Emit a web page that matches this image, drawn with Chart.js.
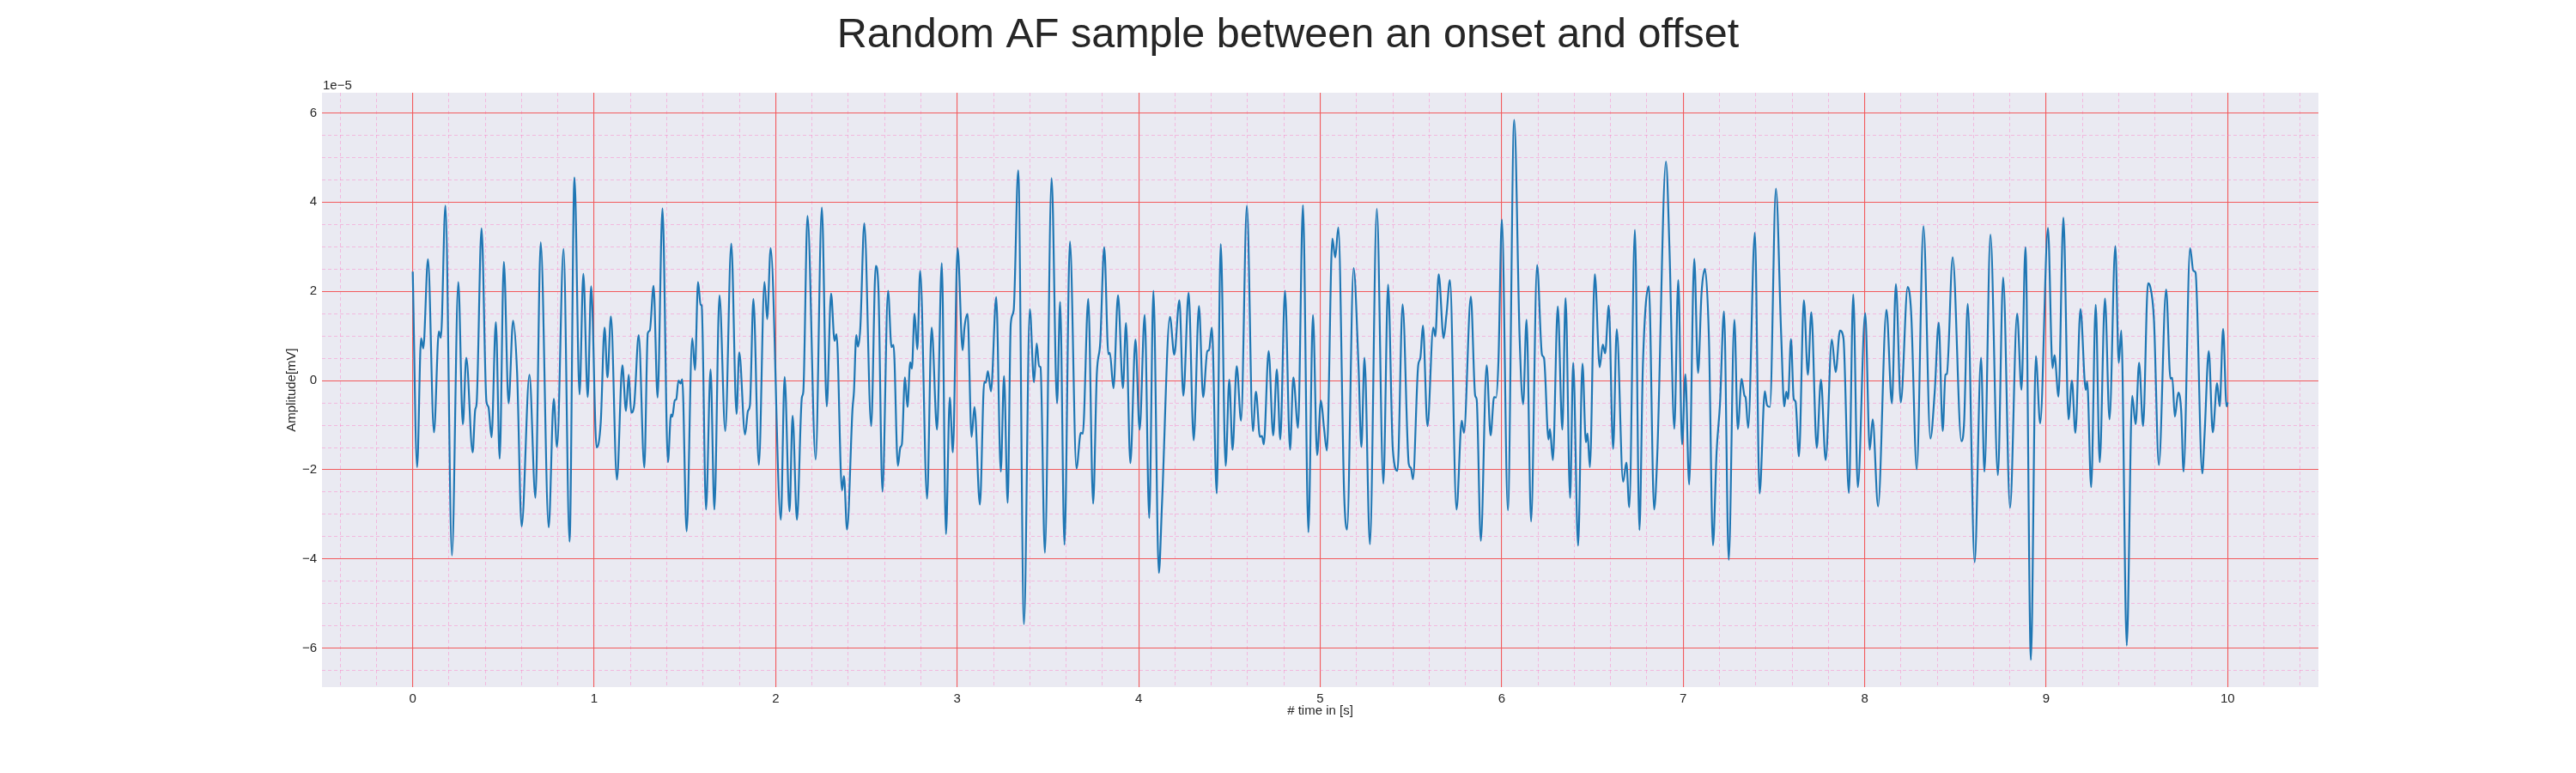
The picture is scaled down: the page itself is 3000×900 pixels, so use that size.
<!DOCTYPE html>
<html>
<head>
<meta charset="utf-8">
<title>Random AF sample between an onset and offset</title>
<script src="https://cdn.jsdelivr.net/npm/chart.js@4.4.1/dist/chart.umd.min.js"></script>
<style>
  html, body { margin: 0; padding: 0; background: #ffffff; }
  #wrap { width: 3000px; height: 900px; position: relative; }
</style>
</head>
<body>
<div id="wrap"><canvas id="chart"></canvas></div>
<script>
// ---------------- data ----------------
const TITLE = 'Random AF sample between an onset and offset';
const X_LABEL = '# time in [s]';
const Y_LABEL = 'Amplitude[mV]';
const Y_OFFSET_TEXT = '1e\u22125';           // amplitudes below are in units of 1e-5

const TIME_S = [
  0.000,0.024,0.046,0.058,0.084,0.117,0.144,0.155,0.180,0.216,0.251,0.276,0.295,0.330,0.344,0.352,0.379,0.406,0.417,0.434,
  0.458,0.479,0.502,0.528,0.553,0.575,0.600,0.643,0.676,0.705,0.749,0.777,0.795,0.831,0.864,0.891,0.919,0.940,0.964,0.983,
  1.013,1.036,1.057,1.073,1.092,1.125,1.155,1.175,1.190,1.204,1.220,1.245,1.276,1.295,1.306,1.327,1.349,1.376,1.406,1.423,
  1.430,1.444,1.452,1.464,1.476,1.485,1.509,1.540,1.555,1.572,1.586,1.592,1.616,1.641,1.662,1.690,1.722,1.755,1.784,1.799,
  1.831,1.847,1.858,1.877,1.907,1.938,1.953,1.972,
  2.028,2.049,2.076,2.093,2.117,2.144,2.152,2.175,2.220,2.254,2.281,2.305,2.324,2.335,2.365,2.376,2.393,2.423,2.431,2.444,
  2.453,2.466,2.488,2.526,2.551,2.566,2.588,2.619,2.638,2.649,2.673,2.687,2.695,2.712,2.726,2.741,2.750,2.765,2.780,2.796,
  2.834,2.859,2.889,2.915,2.938,2.959,2.976,3.002,
  3.030,3.040,3.057,3.079,3.095,3.125,3.149,3.157,3.169,3.186,3.215,3.240,3.258,3.278,3.295,3.311,3.336,3.368,3.400,3.423,
  3.438,3.451,3.459,3.483,3.520,3.550,3.567,3.591,3.621,3.657,3.681,3.692,3.722,3.749,3.769,3.788,3.810,3.833,3.841,3.861,
  3.886,3.913,3.930,3.954,3.982,
  4.005,4.033,4.058,4.081,4.111,4.128,4.172,4.196,4.224,4.246,4.275,4.303,4.332,4.355,4.378,4.387,4.403,4.430,4.452,4.479,
  4.499,4.517,4.540,4.564,4.596,4.629,4.646,4.668,4.679,4.689,4.716,4.741,4.761,4.780,4.806,4.834,4.852,4.878,4.905,4.935,
  4.960,4.983,
  5.004,5.021,5.037,5.067,5.083,5.100,5.132,5.148,5.184,5.211,5.227,5.244,5.274,5.312,5.348,5.374,5.400,5.426,5.454,5.488,
  5.500,5.511,5.540,5.552,5.566,5.591,5.623,5.634,5.653,5.680,5.696,5.715,5.751,5.780,5.792,5.830,5.854,5.862,5.885,5.917,
  5.939,5.958,5.969,5.982,6.001,
  6.034,6.069,6.099,6.118,6.137,6.162,6.195,6.222,6.233,6.258,6.266,6.282,6.309,6.334,6.352,6.377,6.394,6.421,6.445,6.464,
  6.473,6.486,6.513,6.540,6.557,6.570,6.590,6.614,6.634,6.669,6.687,6.703,6.734,6.759,6.778,6.811,6.840,6.857,6.905,6.925,
  6.951,6.973,6.994,
  7.012,7.033,7.061,7.082,7.101,7.120,7.142,7.164,7.184,7.203,7.225,7.251,7.282,7.301,7.322,7.338,7.344,7.358,7.395,7.421,
  7.450,7.462,7.478,7.511,7.540,7.557,7.568,7.578,7.594,7.609,7.619,7.638,7.665,7.687,7.706,7.736,7.759,7.785,7.819,7.840,
  7.864,7.883,7.913,7.937,7.962,8.003,
  8.028,8.044,8.074,8.120,8.150,8.172,8.199,8.237,8.256,8.287,8.324,8.362,8.386,8.408,8.430,8.445,8.453,8.485,8.533,8.548,
  8.568,8.606,8.641,8.660,8.693,8.734,8.763,8.801,8.840,8.864,8.886,8.916,8.943,8.967,9.010,
  9.035,9.046,9.068,9.095,9.123,9.142,9.161,9.189,9.218,9.226,9.248,9.273,9.295,9.324,9.349,9.381,9.400,9.414,9.444,9.474,
  9.493,9.512,9.534,9.561,9.573,9.594,9.621,9.661,9.685,9.695,9.709,9.728,9.744,9.757,9.793,9.811,9.823,9.860,9.873,9.896,
  9.918,9.942,9.956,9.975,9.994,10.000
];

const AMPLITUDE_E5 = [
  2.44,-1.94,0.95,0.72,2.72,-1.16,1.10,0.96,3.92,-3.92,2.21,-0.98,0.51,-1.61,-0.66,-0.51,3.41,-0.47,-0.59,-1.27,
  1.31,-1.75,2.66,-0.51,1.34,0.17,-3.27,0.13,-2.63,3.10,-3.29,-0.41,-1.49,2.95,-3.61,4.55,-0.31,2.39,-0.37,2.11,
  -1.50,-0.93,1.19,0.07,1.44,-2.22,0.34,-0.68,0.13,-0.72,-0.55,1.02,-1.95,1.06,1.12,2.12,-0.38,3.86,-1.83,-0.76,
  -0.81,-0.44,-0.42,0.00,-0.07,0.03,-3.38,0.95,0.24,2.21,1.70,1.68,-2.89,0.25,-2.89,1.91,-1.13,3.07,-0.75,0.63,
  -1.21,-0.68,-0.55,1.83,-1.89,2.21,1.38,2.97,
  -3.12,0.08,-2.93,-0.79,-3.12,-0.38,-0.25,3.69,-1.77,3.88,-0.58,1.95,0.89,1.04,-2.46,-2.14,-3.34,-0.64,-0.25,1.02,
  0.76,1.17,3.52,-1.02,2.57,2.04,-2.49,2.01,0.75,0.80,-1.91,-1.49,-1.43,0.07,-0.59,0.41,0.27,1.50,0.70,2.46,
  -2.65,1.19,-1.10,2.63,-3.44,-0.38,-1.61,2.97,
  0.68,1.19,1.49,-1.26,-0.59,-2.78,-0.03,-0.05,0.21,-0.24,1.87,-2.04,0.10,-2.74,1.27,1.57,4.71,-5.46,1.60,-0.04,
  0.83,0.32,0.30,-3.86,4.54,-0.51,1.76,-3.68,3.12,-1.97,-1.17,-1.19,1.83,-2.76,0.13,0.85,2.99,0.59,0.62,-0.17,
  1.91,-0.17,1.29,-1.85,0.92,
  -1.10,1.47,-3.08,2.01,-4.31,-2.80,1.43,0.58,1.80,-0.34,1.97,-1.34,1.67,-0.37,0.66,0.68,1.19,-2.53,3.06,-1.91,
  0.02,-1.55,0.32,-0.90,3.92,-1.13,-0.25,-1.26,-1.24,-1.43,0.66,-1.23,0.25,-1.32,2.01,-1.55,0.07,-1.06,3.93,-3.40,
  1.47,-1.67,
  -0.45,-1.06,-1.57,3.18,2.76,3.43,-2.55,-3.34,2.52,0.34,-1.49,0.51,-3.67,3.85,-2.31,2.15,-1.53,-2.02,1.71,-1.87,
  -1.96,-2.21,0.34,0.51,1.23,-1.02,1.19,0.99,2.38,0.95,1.49,2.25,-2.89,-0.90,-1.17,1.88,-0.34,-0.42,-3.59,0.34,
  -1.23,-0.37,-0.38,0.42,3.61,
  -2.91,5.84,0.93,-0.53,1.36,-3.16,2.59,0.58,0.51,-1.32,-1.09,-1.78,1.66,-1.10,1.85,-2.63,0.40,-3.70,0.38,-1.38,
  -1.19,-1.94,2.38,0.30,0.81,0.61,1.68,-1.53,1.15,-2.27,-1.84,-2.84,3.38,-3.35,0.34,2.11,-2.89,-1.70,4.91,2.89,
  -1.08,2.25,-1.43,
  0.14,-2.33,2.73,0.17,1.95,2.50,0.93,-3.69,-1.61,-0.51,1.55,-4.02,1.36,-1.09,0.04,-0.34,-0.38,-1.06,3.31,-2.53,
  -0.24,-0.55,-0.59,4.30,1.02,-0.58,-0.25,-0.41,0.93,-0.41,-0.47,-1.70,1.80,0.13,1.53,-1.51,0.02,-1.78,0.92,0.19,
  1.12,0.95,-2.52,1.93,-2.39,1.51,
  -1.55,-0.87,-2.82,1.59,-0.51,2.16,-0.49,2.10,1.53,-1.99,3.46,-1.30,-0.25,1.30,-1.13,0.13,0.15,2.76,-1.36,-0.93,
  1.72,-4.07,0.51,-2.04,3.27,-2.12,2.31,-2.85,1.50,-0.21,2.99,-6.26,0.55,-0.96,3.42,
  0.28,0.57,-0.36,3.65,-0.87,0.00,-1.17,1.60,-0.21,-0.02,-2.39,1.70,-1.83,1.84,-0.87,3.01,0.40,1.12,-5.94,-0.34,
  -0.98,0.40,-1.02,2.18,2.11,1.36,-1.89,2.04,0.04,0.06,-0.81,-0.27,-0.68,-2.04,2.97,2.46,2.42,-2.08,-1.19,0.66,
  -1.16,-0.06,-0.58,1.16,-0.58,-0.49
];

// axis settings (limits and grid steps as shown)
const X_MIN = -0.5, X_MAX = 10.5, X_MINOR_STEP = 0.2, X_MAJOR_STEP = 1;
const Y_MIN = -6.87, Y_MAX = 6.45, Y_MINOR_STEP = 0.5, Y_MAJOR_STEP = 2;

// ---------------- styles ----------------
const FONT = "'Liberation Sans', Arial, Helvetica, sans-serif";
const TEXT_COLOR = '#262626';
const PLOT_BG = '#EAEAF2';
const MAJOR_GRID = '#F25A5C';
const MINOR_GRID = 'rgba(255,105,190,0.38)';
const LINE_COLOR = '#1f77b4';

Chart.defaults.font.family = FONT;
Chart.defaults.color = TEXT_COLOR;

const points = TIME_S.map((t, i) => ({ x: t, y: AMPLITUDE_E5[i] }));

const onStep = (v, step) => Math.abs(v / step - Math.round(v / step)) < 1e-6;
const isXMajor = v => onStep(v, X_MAJOR_STEP);
const isYMajor = v => onStep(v, Y_MAJOR_STEP);

// grid ticks at every minor step inside the axis range
function stepTicks(min, max, step) {
  const out = [];
  for (let k = Math.ceil(min / step - 1e-9); k * step < max - 1e-9; k++) {
    out.push({ value: Math.round(k * step * 1000) / 1000 });
  }
  return out;
}

const plotBackground = {
  id: 'plotBackground',
  beforeDraw(chart) {
    const { ctx, chartArea } = chart;
    ctx.save();
    ctx.fillStyle = PLOT_BG;
    ctx.fillRect(chartArea.left, chartArea.top, chartArea.right - chartArea.left, chartArea.bottom - chartArea.top);
    ctx.restore();
  }
};

const offsetText = {
  id: 'offsetText',
  afterDraw(chart) {
    const { ctx, chartArea } = chart;
    ctx.save();
    ctx.font = '15px ' + FONT;
    ctx.fillStyle = TEXT_COLOR;
    ctx.textAlign = 'left';
    ctx.textBaseline = 'alphabetic';
    ctx.fillText(Y_OFFSET_TEXT, chartArea.left + 1, chartArea.top - 4);
    ctx.restore();
  }
};

new Chart(document.getElementById('chart'), {
  type: 'line',
  data: {
    datasets: [{
      data: points,
      borderColor: LINE_COLOR,
      borderWidth: 2.2,
      pointRadius: 0,
      pointHoverRadius: 0,
      fill: false,
      cubicInterpolationMode: 'monotone'
    }]
  },
  options: {
    responsive: true,
    maintainAspectRatio: false,
    devicePixelRatio: 1,
    animation: false,
    events: [],
    parsing: false,
    layout: { padding: { left: 300, right: 300, top: 0, bottom: 0 } },
    plugins: {
      legend: { display: false },
      tooltip: { enabled: false },
      title: {
        display: true,
        text: TITLE,
        color: TEXT_COLOR,
        font: { size: 48.5, weight: 'normal', family: FONT, lineHeight: 1.2 },
        padding: { top: 13, bottom: 36.8 }
      }
    },
    scales: {
      x: {
        type: 'linear',
        min: X_MIN,
        max: X_MAX,
        afterBuildTicks(scale) { scale.ticks = stepTicks(X_MIN, X_MAX, X_MINOR_STEP); },
        afterFit(scale) { scale.height = 100; },
        border: { display: false, dash: ctx => (ctx.tick && isXMajor(ctx.tick.value)) ? [] : [4, 3] },
        grid: {
          drawTicks: false,
          color: ctx => (ctx.tick && isXMajor(ctx.tick.value)) ? MAJOR_GRID : MINOR_GRID,
          lineWidth: ctx => (ctx.tick && isXMajor(ctx.tick.value)) ? 1.1 : 1
        },
        ticks: {
          autoSkip: false,
          maxRotation: 0,
          padding: 5,
          color: TEXT_COLOR,
          font: { size: 15 },
          callback: v => isXMajor(v) ? String(Math.round(v)) : ''
        },
        title: {
          display: true,
          text: X_LABEL,
          color: TEXT_COLOR,
          font: { size: 15 },
          padding: { top: 0, bottom: 63 }
        }
      },
      y: {
        type: 'linear',
        min: Y_MIN,
        max: Y_MAX,
        afterBuildTicks(scale) { scale.ticks = stepTicks(Y_MIN, Y_MAX, Y_MINOR_STEP); },
        afterFit(scale) { scale.width = 75; },
        border: { display: false, dash: ctx => (ctx.tick && isYMajor(ctx.tick.value)) ? [] : [4, 3] },
        grid: {
          drawTicks: false,
          color: ctx => (ctx.tick && isYMajor(ctx.tick.value)) ? MAJOR_GRID : MINOR_GRID,
          lineWidth: ctx => (ctx.tick && isYMajor(ctx.tick.value)) ? 1.1 : 1
        },
        ticks: {
          autoSkip: false,
          padding: 6,
          color: TEXT_COLOR,
          font: { size: 15 },
          callback: v => {
            if (!isYMajor(v)) return '';
            const n = Math.round(v);
            return n < 0 ? '\u2212' + Math.abs(n) : String(n);
          }
        },
        title: {
          display: true,
          text: Y_LABEL,
          color: TEXT_COLOR,
          font: { size: 15 },
          padding: { top: 31, bottom: 0 }
        }
      }
    }
  },
  plugins: [plotBackground, offsetText]
});
</script>
</body>
</html>
